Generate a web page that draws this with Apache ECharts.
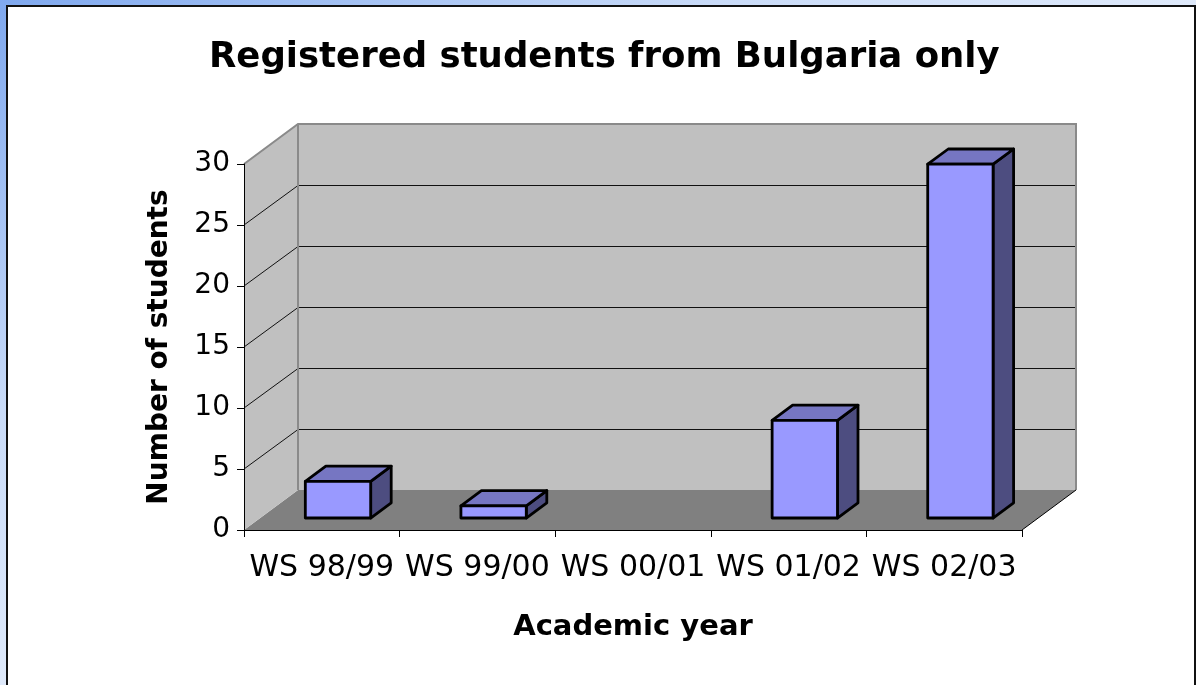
<!DOCTYPE html>
<html>
<head>
<meta charset="utf-8">
<script src="https://cdn.jsdelivr.net/npm/echarts@6/dist/echarts.min.js"></script>
<style>
  html, body { margin:0; padding:0; width:1196px; height:685px; overflow:hidden; }
  body { background: linear-gradient(to bottom right, #7fa8ee 0%, #c9dbf8 30%, #e4edfb 55%, #f1f5fd 100%); }
  #panel { position:absolute; left:6px; top:5px; width:1190px; height:720px; box-sizing:border-box; background:#fff; border:2px solid #111; }
  #chart { position:absolute; left:0; top:0; width:1196px; height:685px; }
</style>
</head>
<body>
<div id="panel"></div>
<div id="chart"></div>
<script>
const categories = ['WS 98/99', 'WS 99/00', 'WS 00/01', 'WS 01/02', 'WS 02/03'];
const students = [3, 1, 0, 8, 29];
const yTicks = [0, 5, 10, 15, 20, 25, 30];

const FONT = 'DejaVu Sans';
const DX = 54, DY = -40;      // depth offset of the 3D box
const F1 = 0.3, F2 = 0.68;    // bar depth position (fraction of floor depth)

function px(v) { return Math.round(v) + 0.5; }

function renderWalls(params, api) {
  const cs = params.coordSys;
  const x0 = cs.x, x1 = cs.x + cs.width;
  const yB = api.coord([0, yTicks[0]])[1];
  const yT = api.coord([0, yTicks[yTicks.length - 1]])[1];
  const children = [];
  children.push({ type: 'polygon', shape: { points: [[x0, yB], [x1, yB], [x1 + DX, yB + DY], [x0 + DX, yB + DY]] }, style: { fill: '#808080' } });
  children.push({ type: 'polygon', shape: { points: [[x0, yB], [x0, yT], [x0 + DX, yT + DY], [x0 + DX, yB + DY]] }, style: { fill: '#c0c0c0' } });
  children.push({ type: 'polygon', shape: { points: [[x0 + DX, yB + DY], [x0 + DX, yT + DY], [x1 + DX, yT + DY], [x1 + DX, yB + DY]] }, style: { fill: '#c0c0c0' } });
  yTicks.slice(1, -1).forEach(function (v) {
    const y = api.coord([0, v])[1];
    const yb = px(y + DY);
    children.push({ type: 'polyline', shape: { points: [[x0, y], [x0 + DX, yb], [x1 + DX, yb]] }, style: { stroke: '#111', lineWidth: 1, fill: null } });
  });
  children.push({ type: 'polyline', shape: { points: [[x0, yT], [x0 + DX, yT + DY], [x1 + DX, yT + DY], [x1 + DX, yB + DY]] }, style: { stroke: '#8a8a8a', lineWidth: 2, fill: null } });
  children.push({ type: 'line', shape: { x1: x0 + DX, y1: yT + DY, x2: x0 + DX, y2: yB + DY }, style: { stroke: '#8a8a8a', lineWidth: 2 } });
  children.push({ type: 'line', shape: { x1: x1, y1: yB, x2: x1 + DX, y2: yB + DY }, style: { stroke: '#000', lineWidth: 1 } });
  return { type: 'group', children: children };
}

function renderBar(params, api) {
  const idx = api.value(0), val = api.value(1);
  if (!(val > 0)) return null;
  const base = api.coord([idx, 0]);
  const top = api.coord([idx, val]);
  const band = api.size([1, 0])[0];
  const w = band * 0.42;
  const x0 = base[0] - w / 2 + F1 * DX, x1 = x0 + w;
  const yb = base[1] + F1 * DY, yt = top[1] + F1 * DY;
  const ddx = (F2 - F1) * DX, ddy = (F2 - F1) * DY;
  const st = { stroke: '#000', lineWidth: 2.8, lineJoin: 'round' };
  return {
    type: 'group',
    children: [
      { type: 'polygon', shape: { points: [[x1, yb], [x1, yt], [x1 + ddx, yt + ddy], [x1 + ddx, yb + ddy]] }, style: Object.assign({ fill: '#4d4d80' }, st) },
      { type: 'polygon', shape: { points: [[x0, yt], [x1, yt], [x1 + ddx, yt + ddy], [x0 + ddx, yt + ddy]] }, style: Object.assign({ fill: '#7676c2' }, st) },
      { type: 'polygon', shape: { points: [[x0, yb], [x1, yb], [x1, yt], [x0, yt]] }, style: Object.assign({ fill: '#9999ff' }, st) }
    ]
  };
}

const chart = echarts.init(document.getElementById('chart'), null, { renderer: 'canvas' });
chart.setOption({
  backgroundColor: 'transparent',
  animation: false,
  title: {
    text: 'Registered students from Bulgaria only',
    left: 204, top: 35,
    textStyle: { fontFamily: FONT, fontWeight: 'bold', fontSize: 35.5, color: '#000' }
  },
  grid: { left: 244, right: 174, top: 164, bottom: 155, outerBoundsMode: 'none', containLabel: false },
  xAxis: {
    type: 'category',
    data: categories,
    boundaryGap: true,
    name: 'Academic year',
    nameLocation: 'middle',
    nameGap: 83,
    nameMoveOverlap: false,
    nameTextStyle: { fontFamily: FONT, fontWeight: 'bold', fontSize: 29, color: '#000' },
    axisLine: { show: true, lineStyle: { color: '#000', width: 1 } },
    axisTick: { show: true, length: 7, interval: 0, alignWithLabel: false, lineStyle: { color: '#000' } },
    axisLabel: { interval: 0, fontFamily: FONT, fontSize: 30, color: '#000', margin: 23 },
    splitLine: { show: false }
  },
  yAxis: {
    type: 'value',
    min: yTicks[0],
    max: yTicks[yTicks.length - 1],
    interval: yTicks[1] - yTicks[0],
    name: 'Number of students',
    nameLocation: 'middle',
    nameGap: 70,
    nameMoveOverlap: false,
    nameTextStyle: { fontFamily: FONT, fontWeight: 'bold', fontSize: 28, color: '#000' },
    axisLine: { show: true, lineStyle: { color: '#000', width: 1 } },
    axisTick: { show: true, length: 7, lineStyle: { color: '#000' } },
    axisLabel: { fontFamily: FONT, fontSize: 28, color: '#000', margin: 14 },
    splitLine: { show: false }
  },
  series: [
    {
      type: 'custom',
      z: -1,
      silent: true,
      renderItem: renderWalls,
      encode: { x: 0, y: 1 },
      data: [[0, 0]]
    },
    {
      type: 'custom',
      z: 2,
      renderItem: renderBar,
      encode: { x: 0, y: 1 },
      data: students.map(function (v, i) { return [i, v]; })
    }
  ]
});
</script>
</body>
</html>
